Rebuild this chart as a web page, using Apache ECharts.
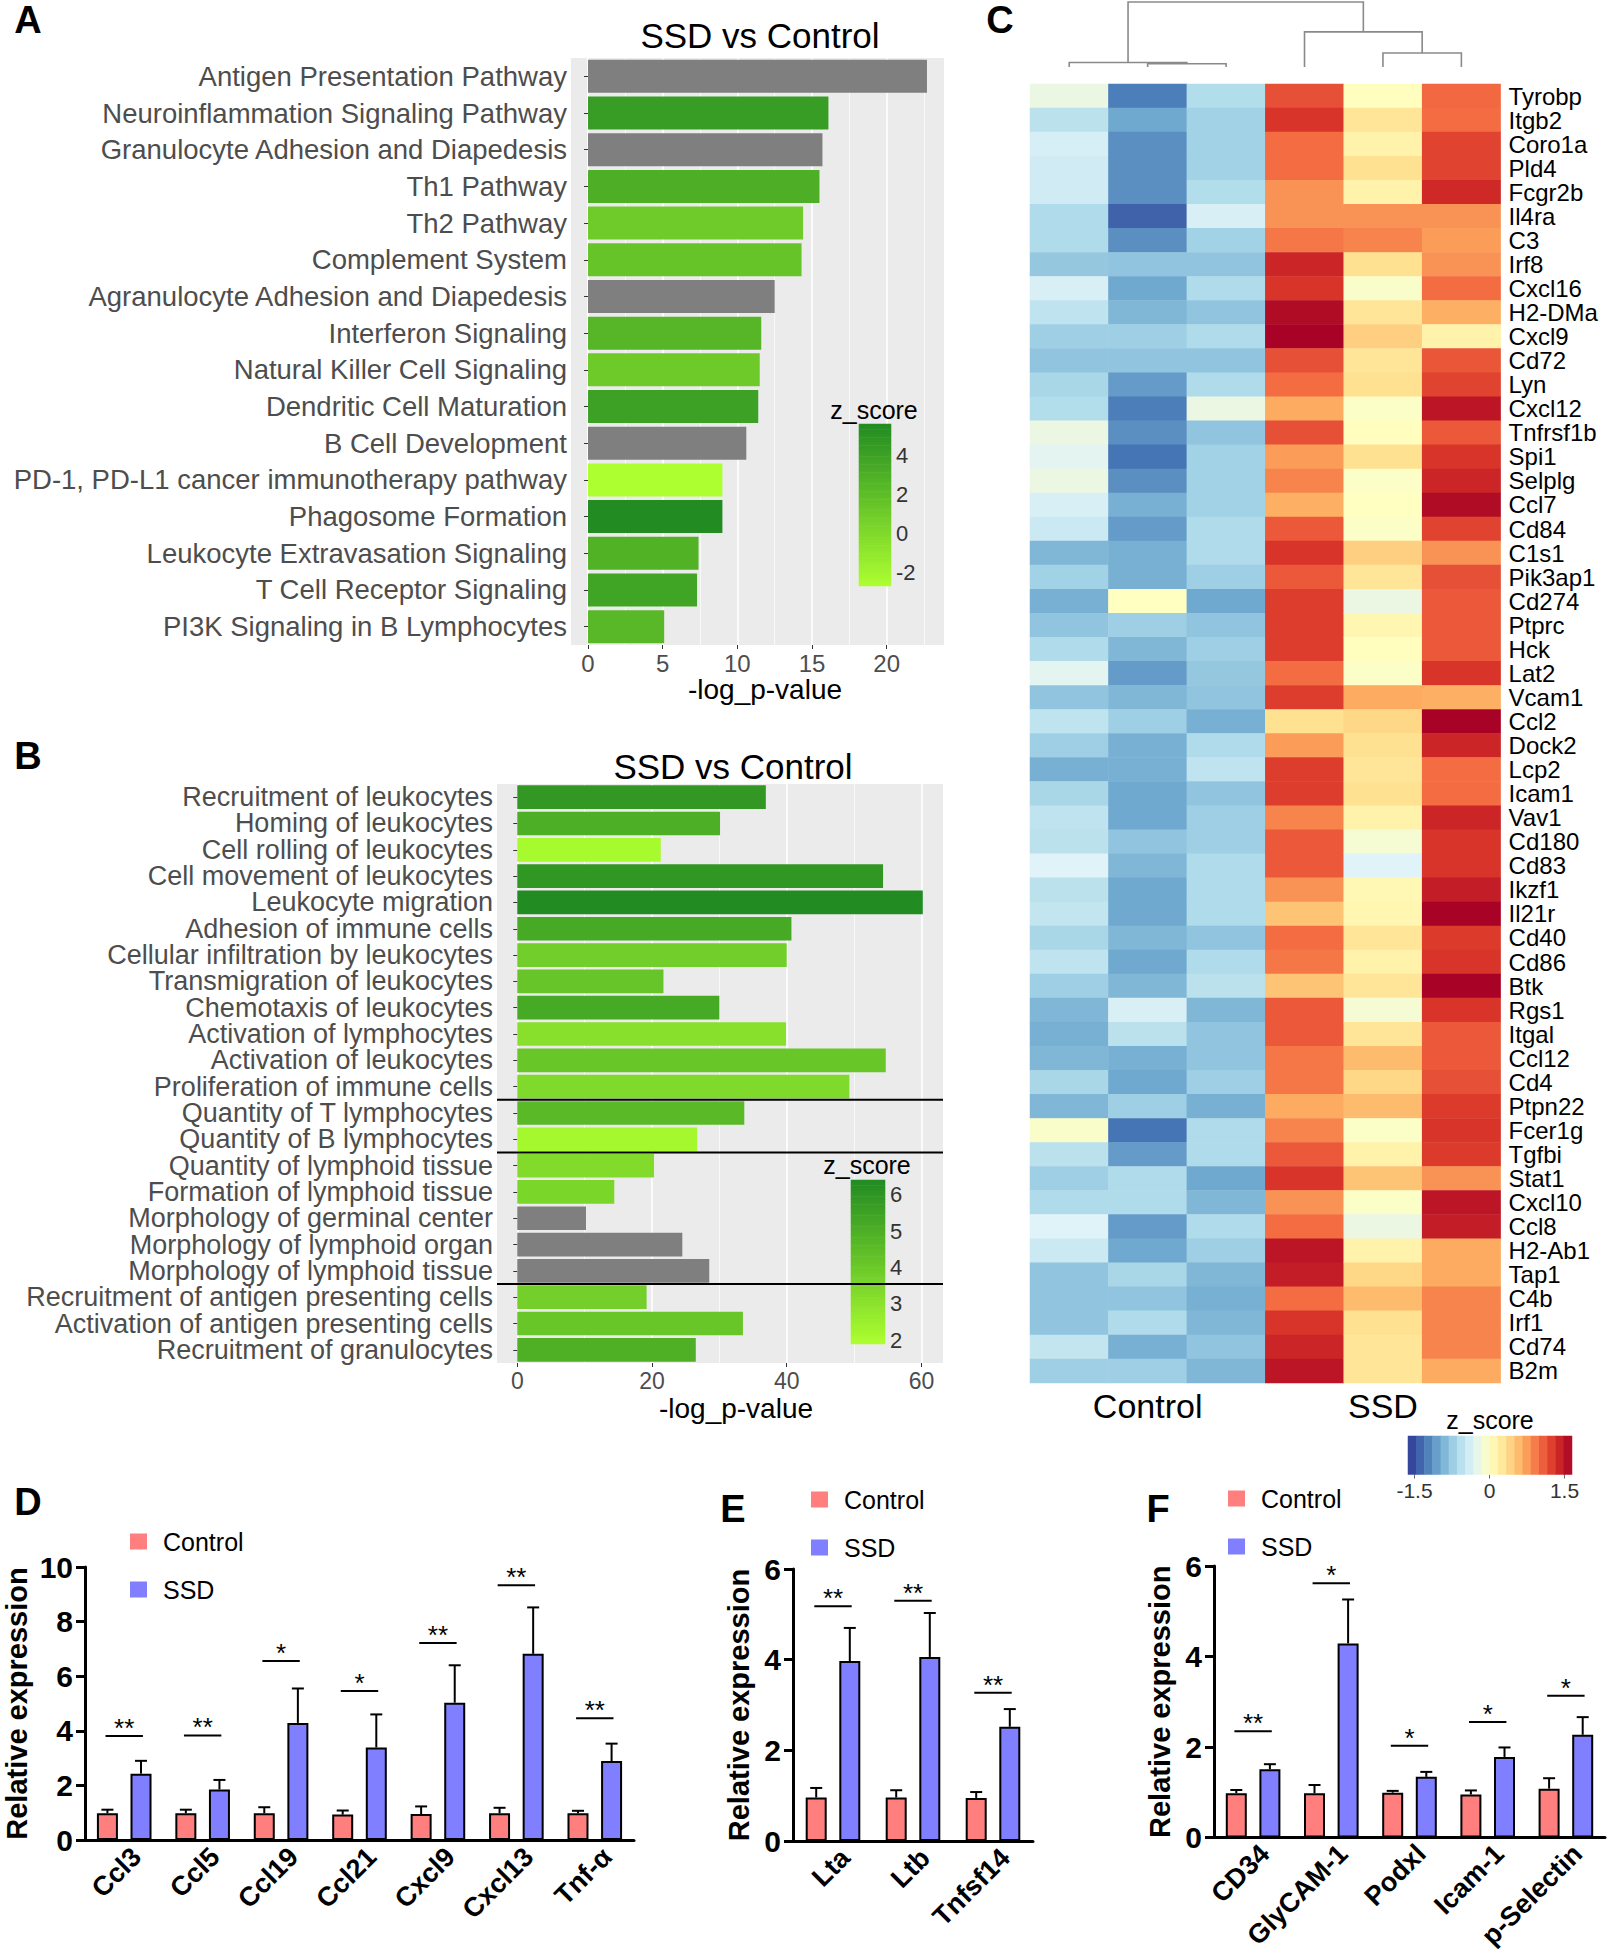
<!DOCTYPE html>
<html><head><meta charset="utf-8">
<script src="https://cdn.jsdelivr.net/npm/echarts@6/dist/echarts.min.js"></script>
<style>html,body{margin:0;padding:0;background:#fff}#c{width:1607px;height:1950px}</style>
</head><body><div id="c"></div>
<script>
// ---------------- DATA ----------------
// Panel A
const pathwaysA = ['Antigen Presentation Pathway','Neuroinflammation Signaling Pathway','Granulocyte Adhesion and Diapedesis','Th1 Pathway','Th2 Pathway','Complement System','Agranulocyte Adhesion and Diapedesis','Interferon Signaling','Natural Killer Cell Signaling','Dendritic Cell Maturation','B Cell Development','PD-1, PD-L1 cancer immunotherapy pathway','Phagosome Formation','Leukocyte Extravasation Signaling','T Cell Receptor Signaling','PI3K Signaling in B Lymphocytes'];
const logPA = [22.7,16.1,15.7,15.5,14.4,14.3,12.5,11.6,11.5,11.4,10.6,9.0,9.0,7.4,7.3,5.1];
const zA = [null,4.3,null,3.0,1.0,1.5,null,2.5,1.1,4.0,null,-2.7,5.6,2.8,3.8,2.4];
const ticksA = [0,5,10,15,20];
const minorTicksA = [2.5,7.5,12.5,17.5,22.5];
const zRangeA = [-2.7,5.6];
const cbTicksA = [-2,0,2,4];

// Panel B
const functionsB = ['Recruitment of leukocytes','Homing of leukocytes','Cell rolling of leukocytes','Cell movement of leukocytes','Leukocyte migration','Adhesion of immune cells','Cellular infiltration by leukocytes','Transmigration of leukocytes','Chemotaxis of leukocytes','Activation of lymphocytes','Activation of leukocytes','Proliferation of immune cells','Quantity of T lymphocytes','Quantity of B lymphocytes','Quantity of lymphoid tissue','Formation of lymphoid tissue','Morphology of germinal center','Morphology of lymphoid organ','Morphology of lymphoid tissue','Recruitment of antigen presenting cells','Activation of antigen presenting cells','Recruitment of granulocytes'];
const logPB = [36.9,30.1,21.3,54.3,60.2,40.7,40.0,21.7,30.0,39.9,54.7,49.3,33.7,26.7,20.3,14.4,10.2,24.5,28.5,19.2,33.5,26.5];
const zB = [5.9,5.0,2.07,5.95,6.41,5.2,3.8,4.15,5.2,3.1,4.1,3.35,4.6,2.15,3.3,3.5,null,null,null,3.75,4.1,4.95];
const separatorsAfterB = [11,13,18];
const ticksB = [0,20,40,60];
const minorTicksB = [10,30,50];
const zRangeB = [1.89,6.41];
const cbTicksB = [2,3,4,5,6];

// Panel C
const genesC = ['Tyrobp','Itgb2','Coro1a','Pld4','Fcgr2b','Il4ra','C3','Irf8','Cxcl16','H2-DMa','Cxcl9','Cd72','Lyn','Cxcl12','Tnfrsf1b','Spi1','Selplg','Ccl7','Cd84','C1s1','Pik3ap1','Cd274','Ptprc','Hck','Lat2','Vcam1','Ccl2','Dock2','Lcp2','Icam1','Vav1','Cd180','Cd83','Ikzf1','Il21r','Cd40','Cd86','Btk','Rgs1','Itgal','Ccl12','Cd4','Ptpn22','Fcer1g','Tgfbi','Stat1','Cxcl10','Ccl8','H2-Ab1','Tap1','C4b','Irf1','Cd74','B2m'];
const samplesC = ['Control_1','Control_2','Control_3','SSD_1','SSD_2','SSD_3'];
const ctrl1Z = [-0.2,-0.55,-0.38,-0.42,-0.42,-0.62,-0.62,-0.78,-0.37,-0.52,-0.72,-0.8,-0.66,-0.6,-0.2,-0.28,-0.2,-0.37,-0.45,-0.9,-0.7,-0.95,-0.8,-0.62,-0.28,-0.8,-0.52,-0.72,-0.95,-0.66,-0.52,-0.55,-0.32,-0.55,-0.5,-0.66,-0.52,-0.72,-0.9,-0.95,-0.9,-0.66,-0.9,-0.05,-0.55,-0.72,-0.62,-0.32,-0.45,-0.8,-0.8,-0.8,-0.5,-0.72];
const ctrl2Z = [-1.25,-1.0,-1.15,-1.15,-1.15,-1.4,-1.15,-0.8,-1.0,-0.9,-0.72,-0.8,-1.08,-1.25,-1.15,-1.3,-1.15,-0.95,-1.08,-0.95,-0.95,0.0,-0.72,-0.9,-1.08,-0.9,-0.72,-0.95,-0.95,-1.0,-1.0,-0.8,-0.9,-1.0,-1.0,-0.9,-1.0,-0.9,-0.37,-0.55,-0.95,-1.0,-0.72,-1.3,-1.08,-0.62,-0.62,-1.08,-1.0,-0.66,-0.8,-0.62,-0.95,-0.72];
const ctrl3Z = [-0.6,-0.7,-0.7,-0.7,-0.6,-0.37,-0.7,-0.8,-0.62,-0.8,-0.62,-0.8,-0.62,-0.2,-0.8,-0.7,-0.7,-0.7,-0.62,-0.62,-0.72,-1.0,-0.8,-0.72,-0.78,-0.8,-0.95,-0.62,-0.52,-0.8,-0.72,-0.72,-0.62,-0.62,-0.62,-0.8,-0.62,-0.55,-0.9,-0.8,-0.8,-0.72,-0.95,-0.62,-0.62,-1.0,-0.9,-0.62,-0.72,-0.9,-0.95,-0.9,-0.8,-0.9];
const ssd1Z = [1.15,1.3,1.0,1.0,0.8,0.8,0.95,1.4,1.3,1.57,1.63,1.15,1.0,0.68,1.15,0.75,0.88,0.65,1.1,1.3,1.1,1.25,1.25,1.25,1.0,1.25,0.33,0.75,1.25,1.25,0.88,1.1,1.1,0.8,0.52,1.0,0.95,0.52,1.1,1.1,0.95,0.95,0.68,0.88,1.1,1.3,0.8,1.0,1.5,1.45,1.0,1.3,1.4,1.5];
const ssd2Z = [0.02,0.28,0.15,0.33,0.15,0.8,0.88,0.33,-0.05,0.28,0.45,0.28,0.33,-0.03,0.02,0.33,-0.03,0.0,-0.03,0.45,0.28,-0.2,0.1,0.02,-0.03,0.68,0.4,0.33,0.28,0.33,0.15,-0.1,-0.32,0.08,0.1,0.28,0.15,0.28,-0.1,0.28,0.58,0.4,0.58,-0.03,0.15,0.52,-0.03,-0.2,0.15,0.4,0.58,0.33,0.28,0.28];
const ssd3Z = [1.02,1.0,1.22,1.22,1.38,0.8,0.75,0.8,1.0,0.65,0.15,1.12,1.22,1.5,1.1,1.3,1.4,1.57,1.22,0.8,1.15,1.1,1.1,1.1,1.3,0.65,1.63,1.4,1.0,1.0,1.4,1.3,1.3,1.45,1.63,1.27,1.3,1.63,1.3,1.1,1.1,1.15,1.27,1.3,1.27,0.8,1.5,1.45,0.68,0.68,0.88,0.88,0.88,0.68];
const zRangeC = [-1.63,1.65];
const cbTicksC = [-1.5,0,1.5];
// dendrogram merges: [leftX, leftHeight, rightX, rightHeight, mergeHeight] (x in column units)
const dendroMerges = [[1.5,0,2.5,0,0.05],[0.5,0,2.0,0.05,0.07],[4.5,0,5.5,0,0.215],[3.5,0,5.0,0.215,0.54],[1.25,0.07,4.25,0.54,1.0]];

// Panel D
const catsD = ['Ccl3','Ccl5','Ccl19','Ccl21','Cxcl9','Cxcl13','Tnf-α'];
const ctrlD = [0.98,0.98,0.98,0.93,0.95,0.98,0.98];
const ctrlErrD = [0.13,0.13,0.22,0.15,0.28,0.2,0.09];
const ssdD = [2.43,1.85,4.29,3.39,5.03,6.82,2.89];
const ssdErrD = [0.47,0.35,1.26,1.21,1.37,1.70,0.64];
const sigYD = [3.81,3.83,6.56,5.46,7.22,9.33,4.46];
const sigD = ['**','**','*','*','**','**','**'];
// Panel E
const catsE = ['Lta','Ltb','Tnfsf14'];
const ctrlE = [0.96,0.96,0.95];
const ctrlErrE = [0.21,0.16,0.13];
const ssdE = [3.97,4.06,2.52];
const ssdErrE = [0.73,0.97,0.39];
const sigYE = [5.18,5.3,3.27];
const sigE = ['**','**','**'];
// Panel F
const catsF = ['CD34','GlyCAM-1','Podxl','Icam-1','p-Selectin'];
const ctrlF = [0.98,0.98,0.99,0.95,1.08];
const ctrlErrF = [0.07,0.18,0.04,0.09,0.23];
const ssdF = [1.51,4.29,1.34,1.78,2.27];
const ssdErrF = [0.11,0.97,0.11,0.21,0.39];
const sigYF = [2.35,5.62,2.03,2.55,3.13];
const sigF = ['**','*','*','*','*'];

// ---------------- BUILD ----------------
const FF = '"Liberation Sans", Arial, Helvetica, sans-serif';
const GREENS = ['#ADFF2F','#228B22'];
const RDYLBU = ['#313695','#4575B4','#74ADD1','#ABD9E9','#E0F3F8','#FFFFBF','#FEE090','#FDAE61','#F46D43','#D73027','#A50026'];
const grid=[], xAxis=[], yAxis=[], series=[], visualMap=[], legend=[], gfx=[];
const addGrid = g => { grid.push(Object.assign({outerBoundsMode:'none', containLabel:false}, g)); return grid.length-1; };
const addX = a => { xAxis.push(a); return xAxis.length-1; };
const addY = a => { yAxis.push(a); return yAxis.length-1; };
const addS = s => { series.push(s); return series.length-1; };
function txt(x, y, text, size, weight, align) {
  return {type:'text', x, y, z:100, style:{text, fill:'#000', fontSize:size, fontWeight:weight||'normal', fontFamily:FF,
    textAlign:align||'center', align:align||'center', textVerticalAlign:'middle', verticalAlign:'middle'}};
}
function greenFor(z, range) {
  if (z == null) return '#7F7F7F';
  return echarts.color.lerp((z - range[0]) / (range[1] - range[0]), GREENS);
}
function binsFor(range, n) { return Array.from({length:n}, (_, i) => range[0] + (i + 0.5) * (range[1] - range[0]) / n); }

// ---- pathway bar panel (A / B) ----
function pathwayPanel(p) {
  const g = addGrid({left:p.left, top:p.top, width:p.width, height:p.height, show:true, backgroundColor:'#EBEBEB', borderWidth:0});
  const xi = addX({gridIndex:g, type:'value', min:p.xmin, max:p.xmax, position:'bottom',
    axisLine:{show:false}, axisTick:{show:true, customValues:p.ticks, length:4, lineStyle:{color:'#333'}},
    axisLabel:{customValues:p.ticks, fontSize:p.tickFont, color:'#4D4D4D', fontFamily:FF, margin:6},
    splitLine:{show:true, lineStyle:{color:'#FFFFFF', width:1.6}},
    name:'-log_p-value', nameLocation:'middle', nameGap:p.nameGap,
    nameTextStyle:{fontSize:28, color:'#000', fontFamily:FF, padding:[0,0,0,p.nameShift]}});
  addX({gridIndex:g, type:'value', min:p.xmin, max:p.xmax, position:'top', axisLine:{show:false}, axisLabel:{show:false},
    axisTick:{show:false, customValues:p.minor}, splitLine:{show:true, lineStyle:{color:'#FFFFFF', width:0.7}}});
  const yi = addY({gridIndex:g, type:'category', inverse:true, data:p.cats, axisLine:{show:false},
    axisTick:{show:true, alignWithLabel:true, length:4, lineStyle:{color:'#333'}},
    axisLabel:{interval:0, fontSize:p.labelFont, color:'#4D4D4D', fontFamily:FF, margin:4}, splitLine:{show:false}});
  addS({type:'bar', xAxisIndex:xi, yAxisIndex:yi, barCategoryGap:'10%', silent:true,
    data:p.vals.map((v,i)=>({value:v, itemStyle:{color:greenFor(p.z[i], p.zRange)}}))});
  if (p.separators) {
    addS({type:'custom', xAxisIndex:xi, yAxisIndex:yi, silent:true, z:5,
      data:p.separators.map(s=>[0,s]),
      renderItem:(params, api)=>{
        const i = api.value(1);
        const y = (api.coord([0,i])[1] + api.coord([0,i+1])[1]) / 2;
        const cs = params.coordSys;
        return {type:'line', shape:{x1:cs.x, y1:y, x2:cs.x+cs.width, y2:y}, style:{stroke:'#000', lineWidth:2}};
      }});
  }
  // colour bar
  const cb = p.cb;
  const gc = addGrid({left:cb.left, top:cb.top, width:cb.width, height:cb.height});
  const cx = addX({gridIndex:gc, type:'category', data:['z'], show:false});
  const cy = addY({gridIndex:gc, type:'category', data:binsFor(p.zRange,60).map((_,i)=>i), show:false});
  addY({gridIndex:gc, type:'value', min:p.zRange[0], max:p.zRange[1], position:'right', axisLine:{show:false},
    axisTick:{show:true, inside:true, length:6, customValues:p.cbTicks, lineStyle:{color:'#fff', width:1}},
    axisLabel:{customValues:p.cbTicks, fontSize:22, color:'#333', fontFamily:FF, margin:5}, splitLine:{show:false}});
  const sc = addS({type:'heatmap', xAxisIndex:cx, yAxisIndex:cy, silent:true,
    data:binsFor(p.zRange,60).map((v,i)=>[0,i,v])});
  visualMap.push({type:'continuous', show:false, seriesIndex:[sc], min:p.zRange[0], max:p.zRange[1], dimension:2, inRange:{color:GREENS}});
}

pathwayPanel({left:571, top:58, width:373, height:587, xmin:-1.14, xmax:23.84, ticks:ticksA, minor:minorTicksA,
  tickFont:24, labelFont:27.5, nameGap:28, nameShift:15, cats:pathwaysA, vals:logPA, z:zA, zRange:zRangeA, cbTicks:cbTicksA,
  cb:{left:859, top:424, width:32, height:162}});
pathwayPanel({left:497, top:784, width:446, height:579, xmin:-3.01, xmax:63.2, ticks:ticksB, minor:minorTicksB,
  tickFont:23, labelFont:27, nameGap:31, nameShift:32, cats:functionsB, vals:logPB, z:zB, zRange:zRangeB, cbTicks:cbTicksB,
  separators:separatorsAfterB, cb:{left:851, top:1180, width:34, height:164}});

// ---- heatmap C ----
const colsC = [ctrl1Z, ctrl2Z, ctrl3Z, ssd1Z, ssd2Z, ssd3Z];
const gC = addGrid({left:1030, top:84, width:470.6, height:1299});
const xC = addX({gridIndex:gC, type:'category', data:samplesC, axisLine:{show:false}, axisTick:{show:false}, splitLine:{show:false},
  axisLabel:{interval:0, fontSize:34, color:'#000', fontFamily:FF, margin:6,
    formatter:(v,i)=> (i===1 || i===4) ? v.split('_')[0] : ''}});
const yC = addY({gridIndex:gC, type:'category', data:genesC, inverse:true, position:'right', axisLine:{show:false}, axisTick:{show:false},
  splitLine:{show:false}, axisLabel:{interval:0, fontSize:24, color:'#000', fontFamily:FF, margin:8}});
const hmData = [];
colsC.forEach((col,c)=>col.forEach((v,r)=>hmData.push([c,r,v])));
const sHM = addS({type:'heatmap', xAxisIndex:xC, yAxisIndex:yC, data:hmData, silent:true, progressive:0});
// legend bar for C
const gCL = addGrid({left:1408, top:1436, width:164, height:38.5});
const xCL = addX({gridIndex:gCL, type:'category', data:binsFor(zRangeC,20).map((_,i)=>i), show:false, position:'top'});
addX({gridIndex:gCL, type:'value', min:zRangeC[0], max:zRangeC[1], position:'bottom', axisLine:{show:false},
  axisTick:{show:true, length:4, customValues:cbTicksC, lineStyle:{color:'#666'}},
  axisLabel:{customValues:cbTicksC, fontSize:21, color:'#333', fontFamily:FF, margin:5, formatter:v=>String(v)}, splitLine:{show:false}});
const yCL = addY({gridIndex:gCL, type:'category', data:['z'], show:false});
const sCL = addS({type:'heatmap', xAxisIndex:xCL, yAxisIndex:yCL, silent:true, data:binsFor(zRangeC,20).map((v,i)=>[i,0,v])});
visualMap.push({type:'continuous', show:false, seriesIndex:[sHM, sCL], min:zRangeC[0], max:zRangeC[1], dimension:2, inRange:{color:RDYLBU}});
// dendrogram
const gDen = addGrid({left:1030, top:2, width:470.6, height:65});
const xDen = addX({gridIndex:gDen, type:'value', min:0, max:6, show:false});
const yDen = addY({gridIndex:gDen, type:'value', min:0, max:1, show:false});
addS({type:'custom', xAxisIndex:xDen, yAxisIndex:yDen, silent:true, data:dendroMerges,
  encode:{x:[0,2], y:[1,3,4]},
  renderItem:(params, api)=>{
    const xa=api.value(0), ha=api.value(1), xb=api.value(2), hb=api.value(3), h=api.value(4);
    const pts=[api.coord([xa,ha]), api.coord([xa,h]), api.coord([xb,h]), api.coord([xb,hb])];
    return {type:'polyline', shape:{points:pts}, style:{stroke:'#8A8A8A', fill:null, lineWidth:1.6}};
  }});

// ---- qPCR bar panels D/E/F ----
function qpcrPanel(p) {
  const g = addGrid({left:p.left, top:p.top, width:p.width, height:p.height});
  const xi = addX({gridIndex:g, type:'category', data:p.cats, axisLine:{show:true, lineStyle:{color:'#000', width:3}}, axisTick:{show:false},
    axisLabel:{interval:0, rotate:45, fontSize:27, fontWeight:'bold', color:'#000', fontFamily:FF, margin:0,
      align:'right', verticalAlign:'top', padding:[p.labelPad,0,0,0]}, splitLine:{show:false}});
  const yi = addY({gridIndex:g, type:'value', min:0, max:p.yMax, interval:2, axisLine:{show:true, lineStyle:{color:'#000', width:3}},
    axisTick:{show:true, length:9, lineStyle:{color:'#000', width:3}}, splitLine:{show:false},
    axisLabel:{fontSize:30, fontWeight:'bold', color:'#000', fontFamily:FF, margin:12},
    name:'Relative expression', nameLocation:'middle', nameGap:p.nameGap,
    nameTextStyle:{fontSize:29, fontWeight:'bold', color:'#000', fontFamily:FF}});
  addS({type:'bar', name:'Control', xAxisIndex:xi, yAxisIndex:yi, data:p.ctrl, barWidth:21, barGap:'60%', silent:true,
    itemStyle:{color:'#FF7F7F', borderColor:'#000', borderWidth:2}});
  addS({type:'bar', name:'SSD', xAxisIndex:xi, yAxisIndex:yi, data:p.ssd, barWidth:21, barGap:'60%', silent:true,
    itemStyle:{color:'#7F7FFF', borderColor:'#000', borderWidth:2}});
  const errData = [];
  p.cats.forEach((c,i)=>{ errData.push([i, p.ctrl[i], p.ctrlErr[i], -1]); errData.push([i, p.ssd[i], p.ssdErr[i], 1]); });
  const off = 16.8;
  addS({type:'custom', xAxisIndex:xi, yAxisIndex:yi, data:errData, silent:true, z:4,
    renderItem:(params, api)=>{
      const i = api.value(0);
      const cx = api.coord([i, 0])[0] + api.value(3) * off;
      const yb = api.coord([i, api.value(1)])[1];
      const yt = api.coord([i, api.value(1) + api.value(2)])[1];
      return {type:'group', children:[
        {type:'line', shape:{x1:cx, y1:yb, x2:cx, y2:yt}, style:{stroke:'#000', lineWidth:2}},
        {type:'line', shape:{x1:cx-6, y1:yt, x2:cx+6, y2:yt}, style:{stroke:'#000', lineWidth:2}}]};
    }});
  addS({type:'custom', xAxisIndex:xi, yAxisIndex:yi, data:p.sigY.map((v,i)=>[i,v]), silent:true, z:4,
    renderItem:(params, api)=>{
      const pt = api.coord([api.value(0), api.value(1)]);
      return {type:'group', children:[
        {type:'line', shape:{x1:pt[0]-18.7, y1:pt[1], x2:pt[0]+18.7, y2:pt[1]}, style:{stroke:'#000', lineWidth:2}},
        {type:'text', x:pt[0], y:pt[1]+5, style:{text:p.sig[params.dataIndex], fill:'#000', fontSize:26, fontFamily:FF,
          textAlign:'center', align:'center', textVerticalAlign:'bottom', verticalAlign:'bottom'}}]};
    }});
  legend.push({data:['Control','SSD'], orient:'vertical', left:p.legLeft, top:p.legTop, itemWidth:17, itemHeight:16, itemGap:23,
    icon:'rect', selectedMode:false, padding:0, itemStyle:{borderWidth:0},
    textStyle:{fontSize:25, color:'#000', fontFamily:FF, padding:[0,0,0,11]}});
}
qpcrPanel({left:85, top:1567, width:549, height:273, yMax:10, nameGap:54, labelPad:4, cats:catsD, ctrl:ctrlD, ctrlErr:ctrlErrD, ssd:ssdD, ssdErr:ssdErrD,
  sigY:sigYD, sig:sigD, legLeft:130, legTop:1529});
qpcrPanel({left:793, top:1569, width:240, height:272, yMax:6, nameGap:40, labelPad:4, cats:catsE, ctrl:ctrlE, ctrlErr:ctrlErrE, ssd:ssdE, ssdErr:ssdErrE,
  sigY:sigYE, sig:sigE, legLeft:811, legTop:1487});
qpcrPanel({left:1214, top:1566, width:391, height:271.5, yMax:6, nameGap:40, labelPad:3, cats:catsF, ctrl:ctrlF, ctrlErr:ctrlErrF, ssd:ssdF, ssdErr:ssdErrF,
  sigY:sigYF, sig:sigF, legLeft:1228, legTop:1486});

// ---- texts ----
gfx.push(txt(28,20,'A',38,'bold'), txt(28,756,'B',38,'bold'), txt(1000,20,'C',38,'bold'),
  txt(28,1502,'D',38,'bold'), txt(733,1509,'E',38,'bold'), txt(1158,1509,'F',38,'bold'),
  txt(760,35,'SSD vs Control',35), txt(733,766,'SSD vs Control',35),
  txt(874,410,'z_score',25), txt(867,1165,'z_score',25), txt(1490,1420,'z_score',25));

const chart = echarts.init(document.getElementById('c'), null, {renderer:'svg', width:1607, height:1950});
chart.setOption({animation:false, backgroundColor:'#fff', textStyle:{fontFamily:FF},
  grid, xAxis, yAxis, series, visualMap, legend, graphic:{elements:gfx}});
</script>
</body></html>
